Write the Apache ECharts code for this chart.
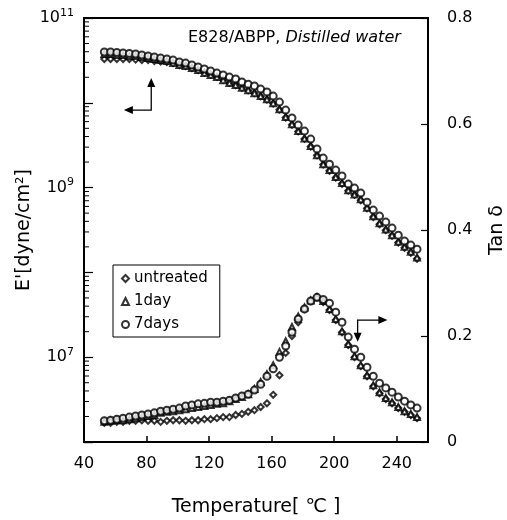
<!DOCTYPE html>
<html><head><meta charset="utf-8">
<script src="https://cdn.jsdelivr.net/npm/echarts@6/dist/echarts.min.js"></script>
<style>html,body{margin:0;padding:0;background:#fff}#c{width:507px;height:520px}</style>
</head><body><div id="c"></div>
<script>
var temps = [53,57,61,65,69,73,77,81,85,89,93,97,101,105,109,113,117,121,125,129,133,137,141,145,149,153,157,161,165,169,173,177,181,185,189,193,197,201,205,209,213,217,221,225,229,233,237,241,245,249,253];
var eUntreated = [3.28e10,3.28e10,3.28e10,3.28e10,3.28e10,3.23e10,3.19e10,3.19e10,3.11e10,3.07e10,3.03e10,2.94e10,2.79e10,2.71e10,2.57e10,2.43e10,2.27e10,2.15e10,2.02e10,1.86e10,1.72e10,1.62e10,1.50e10,1.40e10,1.30e10,1.19e10,1.09e10,9.8e9,8.3e9,6.7e9,5.5e9,4.6e9,3.75e9,3.05e9,2.4e9,1.87e9,1.58e9,1.31e9,1.11e9,9.2e8,8.2e8,7.1e8,5.7e8,4.5e8,3.7e8,3.15e8,2.7e8,2.25e8,1.95e8,1.7e8,1.45e8];
var e1day = [3.76e10,3.76e10,3.66e10,3.66e10,3.56e10,3.56e10,3.47e10,3.37e10,3.28e10,3.19e10,3.11e10,2.94e10,2.79e10,2.71e10,2.57e10,2.43e10,2.24e10,2.13e10,2.01e10,1.85e10,1.71e10,1.62e10,1.50e10,1.41e10,1.30e10,1.20e10,1.10e10,9.9e9,8.4e9,6.8e9,5.6e9,4.64e9,3.8e9,3.1e9,2.4e9,1.89e9,1.61e9,1.33e9,1.13e9,9.3e8,8.3e8,7.3e8,5.8e8,4.6e8,3.8e8,3.2e8,2.75e8,2.3e8,2.0e8,1.75e8,1.5e8];
var e7days = [3.97e10,3.97e10,3.92e10,3.87e10,3.82e10,3.76e10,3.66e10,3.56e10,3.47e10,3.37e10,3.28e10,3.19e10,3.03e10,2.94e10,2.79e10,2.64e10,2.50e10,2.37e10,2.24e10,2.13e10,2.01e10,1.91e10,1.76e10,1.66e10,1.58e10,1.45e10,1.34e10,1.20e10,1.02e10,8.21e9,6.61e9,5.46e9,4.64e9,3.73e9,2.85e9,2.23e9,1.89e9,1.61e9,1.37e9,1.10e9,9.86e8,8.61e8,6.74e8,5.43e8,4.61e8,3.92e8,3.33e8,2.75e8,2.34e8,2.10e8,1.88e8];
var tanUntreated = [0.036,0.036,0.038,0.038,0.040,0.040,0.041,0.040,0.040,0.038,0.040,0.041,0.041,0.040,0.041,0.041,0.043,0.043,0.045,0.047,0.047,0.051,0.053,0.057,0.060,0.066,0.073,0.089,0.126,0.168,0.200,0.226,0.251,0.266,0.273,0.264,0.249,0.230,0.207,0.183,0.160,0.143,0.124,0.105,0.092,0.081,0.073,0.064,0.057,0.051,0.045];
var tan1day = [0.038,0.040,0.041,0.041,0.043,0.045,0.047,0.049,0.051,0.055,0.057,0.058,0.060,0.062,0.064,0.066,0.068,0.070,0.072,0.073,0.077,0.081,0.085,0.090,0.100,0.113,0.128,0.145,0.170,0.190,0.217,0.237,0.254,0.267,0.273,0.266,0.251,0.232,0.209,0.185,0.162,0.145,0.126,0.107,0.094,0.083,0.075,0.066,0.058,0.053,0.047];
var tan7days = [0.040,0.041,0.043,0.045,0.047,0.049,0.051,0.053,0.055,0.058,0.060,0.062,0.064,0.068,0.070,0.072,0.073,0.075,0.075,0.077,0.079,0.083,0.087,0.090,0.098,0.109,0.124,0.138,0.160,0.181,0.207,0.232,0.251,0.266,0.273,0.269,0.262,0.245,0.226,0.198,0.175,0.160,0.141,0.124,0.111,0.102,0.094,0.085,0.077,0.070,0.064];
var seriesNames = ['untreated','1day','7days'];
var xTicks = [40,80,120,160,200,240];
var leftLabels = [7,9,11];
var rightTicks = [0,0.2,0.4,0.6,0.8];
var minorTickValues = [];
for (var d = 6; d <= 10; d++) { for (var m = 2; m <= 9; m++) { minorTickValues.push(m * Math.pow(10, d)); } }

var FONT = '"DejaVu Sans", "Liberation Sans", Arial, sans-serif';
function pairs(xs, ys) { return xs.map(function (x, i) { return [x, ys[i]]; }); }
var symbols = ['emptyDiamond','emptyTriangle','emptyCircle'];
var sizes = [6,6,7];
var eData = [eUntreated, e1day, e7days];
var tData = [tanUntreated, tan1day, tan7days];

var series = [];
for (var i = 0; i < 3; i++) {
  series.push({ name: seriesNames[i], type: 'scatter', xAxisIndex: 0, yAxisIndex: 0, data: pairs(temps, eData[i]),
    symbol: symbols[i], symbolSize: sizes[i], itemStyle: { color: '#000', borderColor: '#000', borderWidth: 1.3 }, z: 3 + i });
  series.push({ name: seriesNames[i], type: 'scatter', xAxisIndex: 0, yAxisIndex: 1, data: pairs(temps, tData[i]),
    symbol: symbols[i], symbolSize: sizes[i], itemStyle: { color: '#000', borderColor: '#000', borderWidth: 1.3 }, z: 3 + i });
}
series.push({ type: 'custom', xAxisIndex: 0, yAxisIndex: 0, silent: true, data: minorTickValues.map(function (v) { return [40, v]; }),
  renderItem: function (params, api) {
    var p = api.coord([40, api.value(1)]);
    return { type: 'line', shape: { x1: p[0], y1: p[1], x2: p[0] + 5, y2: p[1] }, style: { stroke: '#000', lineWidth: 1 } };
  }, z: 2 });

var chart = echarts.init(document.getElementById('c'), null, { renderer: 'canvas' });
chart.setOption({
  animation: false,
  backgroundColor: '#fff',
  textStyle: { fontFamily: FONT, color: '#000' },
  grid: { left: 84, top: 18, right: 79, bottom: 78, show: true, borderColor: '#000', borderWidth: 2, backgroundColor: 'transparent', containLabel: false, outerBoundsMode: 'none' },
  legend: {
    data: seriesNames, orient: 'vertical', left: 113, top: 265, itemWidth: 7, itemHeight: 7, itemGap: 8,
    borderColor: '#000', borderWidth: 1, padding: [6, 12, 5, 8], backgroundColor: '#fff',
    textStyle: { fontFamily: FONT, fontSize: 15, color: '#000' }
  },
  xAxis: {
    type: 'value', min: 40, max: 260, interval: 40,
    name: 'Temperature[ ℃ ]', nameLocation: 'middle', nameGap: 56, nameMoveOverlap: false,
    nameTextStyle: { fontFamily: FONT, fontSize: 19, color: '#000' },
    axisLine: { lineStyle: { color: '#000', width: 2 } },
    axisTick: { inside: true, length: 6, lineStyle: { color: '#000', width: 1.5 } },
    axisLabel: { fontFamily: FONT, fontSize: 16, color: '#000', margin: 14, showMaxLabel: false,
      formatter: function (v) { return xTicks.indexOf(v) >= 0 ? String(v) : ''; } },
    splitLine: { show: false }
  },
  yAxis: [{
    type: 'log', logBase: 10, min: 1e6, max: 1e11, splitNumber: 5, position: 'left',
    name: "E'[dyne/cm²]", nameLocation: 'middle', nameGap: 50, nameMoveOverlap: false,
    nameTextStyle: { fontFamily: FONT, fontSize: 19, color: '#000' },
    axisLine: { lineStyle: { color: '#000', width: 2 } },
    axisTick: { inside: true, length: 9, lineStyle: { color: '#000', width: 1.2 } },
    axisLabel: { margin: 10, color: '#000',
      formatter: function (v) { var e = Math.round(Math.log10(v)); return leftLabels.indexOf(e) >= 0 ? '{b|10}{s|' + e + '}' : ''; },
      rich: { b: { fontFamily: FONT, fontSize: 16, color: '#000' }, s: { fontFamily: FONT, fontSize: 11, color: '#000', verticalAlign: 'top', padding: [0, 0, 10, 0] } } },
    splitLine: { show: false }
  }, {
    type: 'value', min: 0, max: 0.8, interval: 0.2, position: 'right',
    name: 'Tan δ', nameLocation: 'middle', nameGap: 60, nameRotate: 90,
    nameTextStyle: { fontFamily: FONT, fontSize: 19, color: '#000' },
    axisLine: { lineStyle: { color: '#000', width: 2 } },
    axisTick: { inside: true, length: 7, lineStyle: { color: '#000', width: 1.2 } },
    axisLabel: { fontFamily: FONT, fontSize: 16, color: '#000', margin: 19,
      formatter: function (v) { return rightTicks.indexOf(Math.round(v * 10) / 10) >= 0 ? (v === 0 ? '0' : v.toFixed(1)) : ''; } },
    splitLine: { show: false }
  }],
  series: series
});

function px(x, y, yIdx) { return chart.convertToPixel({ xAxisIndex: 0, yAxisIndex: yIdx }, [x, y]); }
function arrowHead(tip, dir) {
  var L = 9, W = 4, pts;
  if (dir === 'up') pts = [[tip[0], tip[1]], [tip[0] - W, tip[1] + L], [tip[0] + W, tip[1] + L]];
  if (dir === 'down') pts = [[tip[0], tip[1]], [tip[0] - W, tip[1] - L], [tip[0] + W, tip[1] - L]];
  if (dir === 'left') pts = [[tip[0], tip[1]], [tip[0] + L, tip[1] - W], [tip[0] + L, tip[1] + W]];
  if (dir === 'right') pts = [[tip[0], tip[1]], [tip[0] - L, tip[1] - W], [tip[0] - L, tip[1] + W]];
  return { type: 'polygon', shape: { points: pts }, style: { fill: '#000' }, z: 10 };
}
var c1 = px(83, 8.2e9, 0), up1 = px(83, 1.96e10, 0), lf1 = px(65.5, 8.2e9, 0);
var c2 = px(215, 0.230, 1), dn2 = px(215, 0.189, 1), rt2 = px(234, 0.230, 1);
chart.setOption({ graphic: [
  { type: 'polyline', shape: { points: [[up1[0], up1[1] + 6], c1, [lf1[0] + 6, lf1[1]]] }, style: { stroke: '#000', lineWidth: 1.3, fill: null }, z: 10 },
  arrowHead(up1, 'up'), arrowHead(lf1, 'left'),
  { type: 'polyline', shape: { points: [[dn2[0], dn2[1] - 6], c2, [rt2[0] - 6, rt2[1]]] }, style: { stroke: '#000', lineWidth: 1.3, fill: null }, z: 10 },
  arrowHead(dn2, 'down'), arrowHead(rt2, 'right'),
  { type: 'text', left: 188, top: 30, z: 10, style: { text: '{a|E828/ABPP, }{b|Distilled water}',
    rich: { a: { fontFamily: FONT, fontSize: 16, fill: '#000' }, b: { fontFamily: FONT, fontSize: 16, fontStyle: 'italic', fill: '#000' } } } }
] });
</script></body></html>
